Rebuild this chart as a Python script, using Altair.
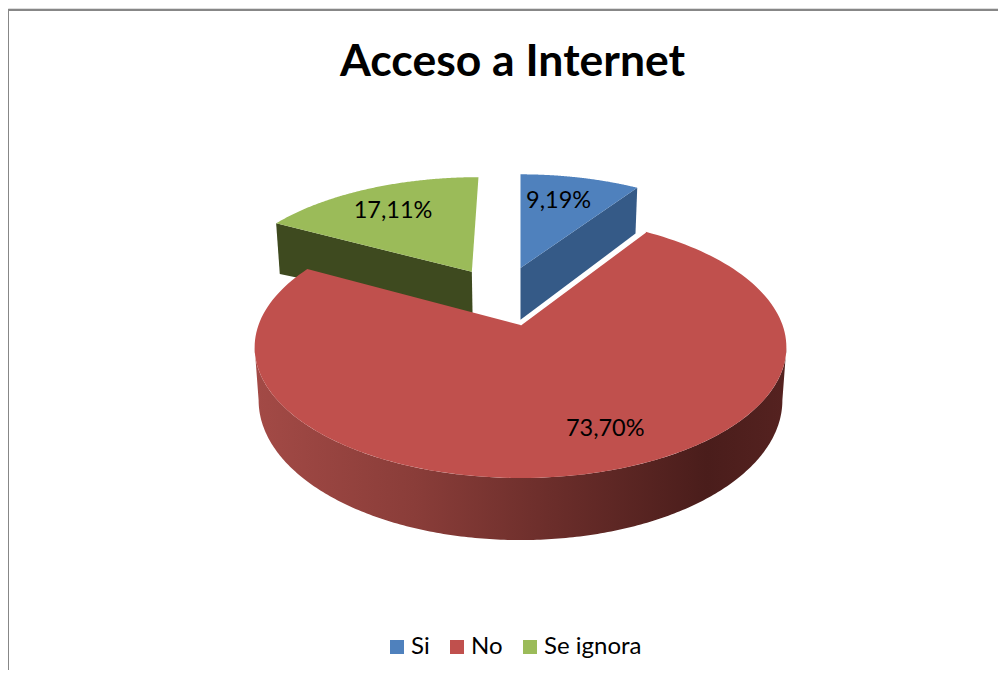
import numpy as np
import pandas as pd
import altair as alt

TITLE = "Acceso a Internet"
names = ["Si", "No", "Se ignora"]
values = [9.19, 73.70, 17.11]
colors = ["#4F81BD", "#C0504D", "#9BBB59"]
wall_colors = ["#355A87", None, "#3E4A1F"]
explode = [(0.0, 0.486), (0.0, 0.0), (-0.2, 0.451)]
wall_scale = [(1.09, 1.09), (1.0, 1.0), (0.88, 1.14)]
label_angle = [13.9, 158.0, 329.2]
label_radius = [0.728, 0.76, 0.734]

# perspective of the tilted disc
CX, CY, RX, RY, K, DEPTH, SHRINK = 520.5, 325.0, 262.0, 127.0, 0.17, 51.5, 0.985
BOTTOM = 670
RIGHT = 998


def project(u, v, low=False, depth=1.0):
    d = 1 + K * v
    x = RX * u / d
    y = -RY * v / d
    if low:
        x = x * SHRINK
        y = y + DEPTH * depth / d
    return CX + x, CY + y


def frame(xs, ys, name):
    return pd.DataFrame({"x": xs, "y": ys, "o": np.arange(len(xs)), "serie": name})


def slice_angles():
    edges = np.cumsum([0.0] + values) / sum(values) * 2 * np.pi
    return list(zip(edges[:-1], edges[1:]))


def face(i):
    a, b = slice_angles()[i]
    eu, ev = explode[i]
    t = np.linspace(a, b, 160)
    u = np.concatenate([[eu], eu + np.sin(t), [eu]])
    v = np.concatenate([[ev], ev + np.cos(t), [ev]])
    x, y = project(u, v)
    return frame(x, y, names[i])


def cut_wall(i, angle):
    eu, ev = explode[i]
    u = np.array([eu, eu + np.sin(angle)])
    v = np.array([ev, ev + np.cos(angle)])
    x1, y1 = project(u, v)
    x2, y2 = project(u, v, low=True, depth=np.array(wall_scale[i]))
    return frame(np.r_[x1, x2[::-1], x1[0]], np.r_[y1, y2[::-1], y1[0]], names[i])


def front_wall(i):
    # the visible front of the round side, between the two silhouette points
    first = np.arccos(-K)
    t = np.linspace(first, 2 * np.pi - first, 240)
    u, v = np.sin(t), np.cos(t)
    x1, y1 = project(u, v)
    x2, y2 = project(u, v, low=True)
    return frame(np.r_[x1, x2[::-1], x1[0]], np.r_[y1, y2[::-1], y1[0]], names[i])


x_scale = alt.Scale(domain=[8, RIGHT], range=[0, RIGHT - 8], nice=False, zero=False)
y_scale = alt.Scale(domain=[8, BOTTOM], range=[0, BOTTOM - 8], nice=False, zero=False)
X = alt.X("x:Q", scale=x_scale, axis=None)
Y = alt.Y("y:Q", scale=y_scale, axis=None)
fill_scale = alt.Scale(domain=names, range=colors)
legend = alt.Legend(
    title=None, orient="none", legendX=377, legendY=627, direction="horizontal",
    symbolType="square", symbolSize=196, symbolStrokeWidth=0, labelFont="Lato",
    labelFontSize=24, labelColor="#000000", columnPadding=15, labelOffset=2, columns=3,
)


def poly(df, fill=None, **kw):
    base = alt.Chart(df)
    if fill is not None:
        mark = base.mark_line(fill=fill, stroke=None, strokeWidth=0, **kw)
        return mark.encode(x=X, y=Y, order="o:Q")
    mark = base.mark_line(strokeWidth=0, stroke=None, **kw)
    return mark.encode(
        x=X, y=Y, order="o:Q",
        fill=alt.Fill("serie:N", scale=fill_scale, legend=legend),
    )


angles = slice_angles()
red_gradient = alt.Gradient(
    gradient="linear", x1=0, x2=1, y1=0, y2=0,
    stops=[
        alt.GradientStop(color="#A34A46", offset=0),
        alt.GradientStop(color="#8A3D39", offset=0.3),
        alt.GradientStop(color="#6C2E2B", offset=0.55),
        alt.GradientStop(color="#4A1D1B", offset=0.85),
        alt.GradientStop(color="#552220", offset=1),
    ],
)

layers = [
    poly(cut_wall(2, angles[2][0]), wall_colors[2]),
    poly(face(2)),
    poly(cut_wall(0, angles[0][1]), wall_colors[0]),
    poly(face(0)),
    poly(front_wall(1), red_gradient),
    poly(face(1)),
]

# white edge of the red slice where it meets the blue one
edge_x, edge_y = project(np.array([0.0, np.sin(angles[1][0])]), np.array([0.0, np.cos(angles[1][0])]))
layers.append(
    alt.Chart(frame(edge_x, edge_y, "No"))
    .mark_line(color="#FFFFFF", strokeWidth=1.5)
    .encode(x=X, y=Y, order="o:Q")
)

lab_u, lab_v, lab_t = [], [], []
for i, val in enumerate(values):
    th = np.radians(label_angle[i])
    lab_u.append(explode[i][0] + label_radius[i] * np.sin(th))
    lab_v.append(explode[i][1] + label_radius[i] * np.cos(th))
    lab_t.append(f"{val:.2f}".replace(".", ",") + "%")
lx, ly = project(np.array(lab_u), np.array(lab_v))
labels = pd.DataFrame({"x": lx, "y": ly, "t": lab_t})
layers.append(
    alt.Chart(labels)
    .mark_text(font="Lato", fontSize=23.5, color="#000000", align="center", baseline="middle", dy=2)
    .encode(x=X, y=Y, text="t:N")
)

# chart frame, running off the picture as in the source
layers.append(
    alt.Chart(pd.DataFrame({"x": [8, RIGHT], "y": [10, 10]}))
    .mark_line(color="#878787", strokeWidth=2)
    .encode(x=X, y=Y)
)
layers.append(
    alt.Chart(pd.DataFrame({"x": [8, 8], "y": [10, BOTTOM]}))
    .mark_line(color="#878787", strokeWidth=2)
    .encode(x=X, y=Y)
)

chart = (
    alt.layer(*layers)
    .resolve_scale(fill="shared")
    .properties(
        width=RIGHT - 8, height=BOTTOM - 8, padding=0,
        autosize=alt.AutoSizeParams(type="none"),
        title=alt.TitleParams(
            TITLE, font="Lato", fontSize=44.5, fontWeight="bold", color="#000000",
            anchor="start", offset=0, dx=336, dy=114, baseline="alphabetic",
        ),
    )
    .configure_view(stroke="transparent", strokeWidth=0)
    .configure(background="#FFFFFF")
)

chart.save("out.html", embed_options={"renderer": "svg", "actions": False})
